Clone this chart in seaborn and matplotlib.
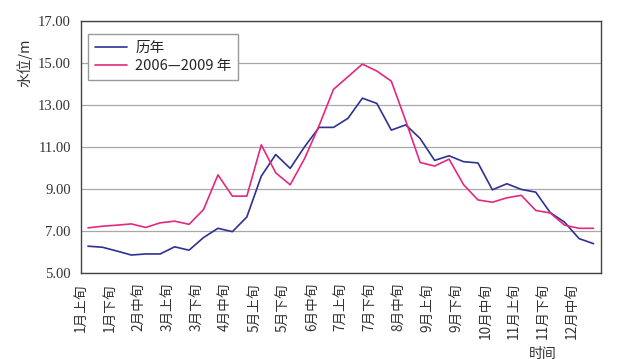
import matplotlib
matplotlib.use("Agg")
import matplotlib.pyplot as plt
import seaborn as sns
import pandas as pd

# ---- data ----
months = [f"{m}月" for m in range(1, 13)]
periods = ["上旬", "中旬", "下旬"]
categories = [m + p for m in months for p in periods]

historical = [6.29, 6.24, 6.06, 5.87, 5.92, 5.92, 6.26, 6.10, 6.70, 7.14, 6.98, 7.68,
              9.62, 10.65, 9.99, 11.02, 11.94, 11.94, 12.37, 13.33, 13.08, 11.81, 12.06, 11.41,
              10.37, 10.59, 10.31, 10.25, 8.97, 9.26, 8.99, 8.86, 7.89, 7.43, 6.65, 6.41]
recent = [7.16, 7.24, 7.29, 7.35, 7.18, 7.40, 7.48, 7.33, 8.03, 9.68, 8.67, 8.67,
          11.11, 9.78, 9.21, 10.46, 12.02, 13.75, 14.35, 14.95, 14.62, 14.14, 12.25, 10.27,
          10.10, 10.43, 9.22, 8.49, 8.38, 8.59, 8.71, 7.99, 7.87, 7.29, 7.14, 7.14]
series_names = ["历年", "2006—2009 年"]
series_colors = ["#2e3192", "#e2297f"]
y_ticks = [5, 7, 9, 11, 13, 15, 17]

# ---- frame ----
idx = list(range(len(categories)))
df = pd.concat([
    pd.DataFrame({"idx": idx, "val": historical, "series": series_names[0]}),
    pd.DataFrame({"idx": idx, "val": recent, "series": series_names[1]}),
])

sns.set_style("white")
plt.rcParams["font.family"] = ["Noto Sans CJK SC", "DejaVu Sans"]

fig = plt.figure(figsize=(6.19, 3.59), dpi=100)
ax = fig.add_axes([0.1304, 0.2387, 0.8401, 0.7028])

sns.lineplot(data=df, x="idx", y="val", hue="series", palette=series_colors,
             hue_order=series_names, linewidth=1.2, ax=ax, legend=True)

ax.set_xlim(-0.5, len(categories) - 0.5)
ax.set_ylim(5, 17)
ax.set_yticks(y_ticks)
ax.set_yticklabels([f"{v:.2f}" for v in y_ticks],
                   family=["Liberation Serif", "DejaVu Serif"], fontsize=10.5)
ax.tick_params(axis="y", length=0, pad=7, colors="#333333")

xt = [i - 0.5 for i in range(0, len(categories), 2)]
ax.set_xticks(xt)
ax.set_xticklabels([categories[i] for i in range(0, len(categories), 2)],
                   rotation=90, fontsize=9.8, color="#333333")
ax.tick_params(axis="x", direction="in", length=5, width=0.8, color="#555555", pad=7)

ax.grid(axis="y", color="#a8a8a8", linewidth=0.9)
ax.grid(axis="x", visible=False)
for s in ax.spines.values():
    s.set_color("#444444")
    s.set_linewidth(1.0)

ax.set_xlabel("时间", fontsize=10, color="#333333", va="center")
ax.xaxis.set_label_coords(0.889, -0.318)
ax.set_ylabel("水位/m", fontsize=10.5, color="#333333")
ax.yaxis.set_label_coords(-0.093, 0.834)

leg = ax.legend(loc="upper left", bbox_to_anchor=(0.014, 0.948), fontsize=10.5,
                frameon=True, fancybox=False, edgecolor="#999999", framealpha=1,
                handlelength=2.2, borderpad=0.45, labelspacing=0.3, handletextpad=0.6,
                borderaxespad=0)
leg.get_frame().set_linewidth(1.0)
for line in leg.get_lines():
    line.set_linewidth(1.2)

fig.savefig("out.png", dpi=100)
